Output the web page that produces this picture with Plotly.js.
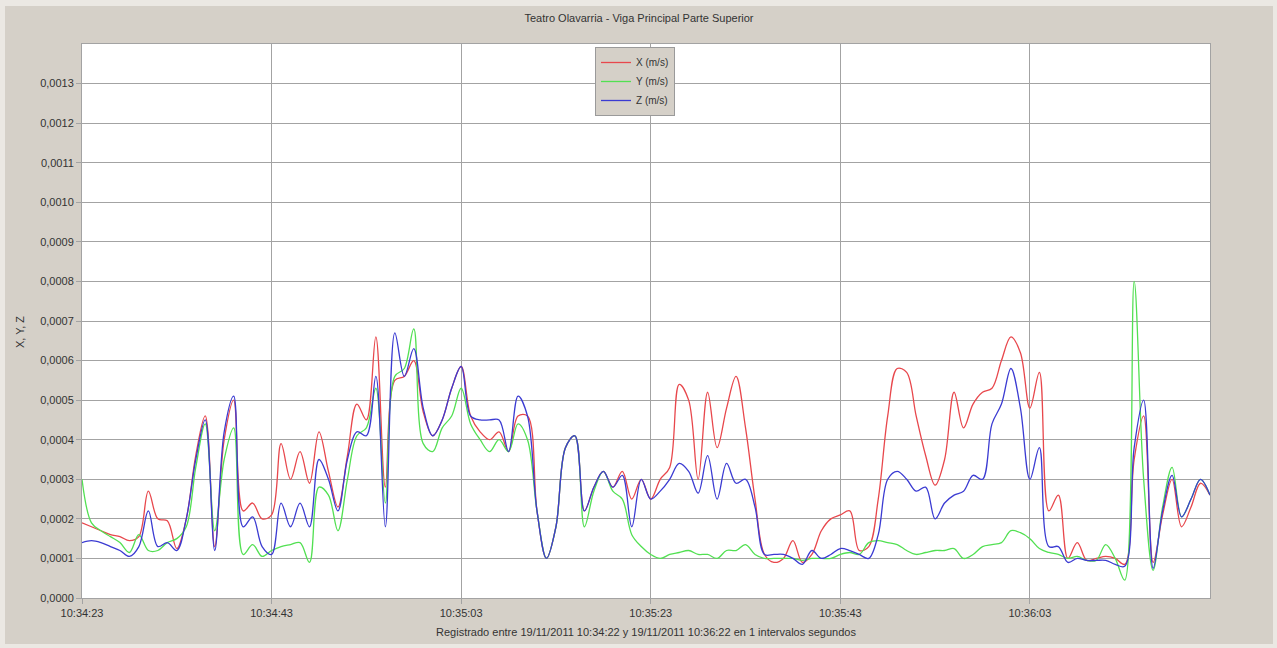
<!DOCTYPE html>
<html>
<head>
<meta charset="utf-8">
<script src="https://cdn.plot.ly/plotly-3.0.1.min.js"></script>
<style>
  html, body { margin: 0; padding: 0; background: #ebe8e3; }
  #chart { position: absolute; left: 5px; top: 6px; width: 1268px; height: 638px; }
</style>
</head>
<body>
<div id="chart"></div>
<script>
// Recording start (first plotted sample) and sample interval: 1 s
const startTime = '2011-11-19 10:34:23';
const intervalSeconds = 1;

// Values in units of 0.0001 m/s, one per second from 10:34:23
const unit = 0.0001;
const seriesX = [
  1.9, 1.8, 1.7, 1.6, 1.55, 1.45, 1.55, 2.7, 2.0, 1.95,
  1.25, 2.0, 3.6, 4.6, 1.3, 4.0, 5.0, 2.2, 2.4, 2.0,
  2.1, 3.9, 3.0, 3.7, 2.9, 4.2, 3.2, 2.3, 3.6, 4.9,
  4.5, 6.6, 2.8, 5.5, 5.6, 6.0, 4.7, 4.1, 4.5, 5.3,
  5.85, 4.6, 4.2, 4.0, 4.2, 3.7, 4.6, 4.6, 2.2, 1.0,
  1.8, 3.8, 4.1, 2.2, 2.8, 3.2, 2.8, 3.2, 2.5, 3.0,
  2.5, 3.0, 3.3, 5.4, 5.0, 3.0, 5.2, 3.8, 4.8, 5.6,
  4.3, 2.5, 1.1, 0.9, 1.0, 1.45, 0.9, 1.1, 1.7, 2.0,
  2.1, 2.2, 1.2, 1.3, 2.5, 4.6, 5.8, 5.7, 4.6, 3.6,
  2.85, 3.5, 5.2, 4.3, 4.9, 5.2, 5.3, 6.0, 6.6, 6.2,
  4.8, 5.7, 2.2, 2.6, 1.0, 1.4, 0.95, 1.0, 1.05, 1.0,
  0.85, 3.5, 4.6, 0.9, 2.1, 3.0, 1.8, 2.3, 2.9, 2.6
];
const seriesY = [
  3.0, 1.9, 1.7, 1.55, 1.4, 1.15, 1.6, 1.2, 1.2, 1.4,
  1.5, 1.8, 3.3, 4.4, 1.7, 3.5, 4.3, 1.1, 1.35, 1.05,
  1.2, 1.3, 1.35, 1.4, 0.9, 2.8, 2.6, 1.7, 3.0, 4.1,
  4.3, 5.3, 2.4, 5.6, 5.8, 6.8, 3.9, 3.7, 4.3, 4.6,
  5.3, 4.4, 4.0, 3.7, 4.0, 3.7, 4.4, 4.0, 2.2, 1.0,
  1.8, 3.8, 4.1, 1.8, 2.7, 3.2, 2.7, 2.5, 1.6, 1.3,
  1.1, 1.0, 1.1, 1.15, 1.2, 1.1, 1.1, 1.0, 1.2, 1.2,
  1.35, 1.1, 1.0, 1.0, 1.0, 1.0, 0.95, 1.0, 1.0, 1.0,
  1.1, 1.15, 1.1, 1.4, 1.45, 1.4, 1.35, 1.2, 1.1, 1.15,
  1.2, 1.2, 1.25, 1.0, 1.1, 1.3, 1.35, 1.4, 1.7, 1.65,
  1.5, 1.25, 1.15, 1.1, 1.0, 1.05, 0.95, 0.95, 1.35, 1.0,
  0.45, 8.0, 3.0, 0.7, 2.3, 3.3, 2.05, 2.5, 3.0, 2.6
];
const seriesZ = [
  1.4, 1.45, 1.4, 1.3, 1.2, 1.05, 1.3, 2.2, 1.3, 1.4,
  1.2, 2.0, 3.5, 4.5, 1.2, 4.2, 5.1, 1.8, 2.05, 1.3,
  1.1, 2.4, 1.8, 2.4, 1.8, 3.5, 3.0, 2.2, 3.5, 4.2,
  4.1, 5.6, 1.8, 6.7, 5.6, 6.3, 4.8, 4.1, 4.5, 5.3,
  5.85, 4.6, 4.5, 4.5, 4.5, 3.7, 5.1, 4.6, 2.2, 1.0,
  1.8, 3.8, 4.1, 2.2, 2.8, 3.2, 2.8, 3.1, 1.8, 3.0,
  2.5, 2.7, 3.0, 3.4, 3.2, 2.65, 3.6, 2.5, 3.4, 2.9,
  3.0, 2.3, 1.1, 1.1, 1.1, 1.0, 0.85, 1.2, 1.0, 1.1,
  1.25, 1.2, 1.1, 1.0, 1.6, 3.0, 3.2, 3.0, 2.7, 2.8,
  2.0, 2.4, 2.6, 2.7, 3.1, 3.0, 4.4, 4.9, 5.8, 4.8,
  3.0, 3.8, 1.3, 1.3, 0.9, 1.0, 0.95, 0.95, 0.95, 0.85,
  0.8, 3.8, 5.0, 0.75, 2.2, 3.1, 2.05, 2.5, 3.0, 2.6
];

const xTickStart = '2011-11-19 10:34:23';
const xRange = ['2011-11-19 10:34:23', '2011-11-19 10:36:22'];
const yTickVals = [0, 0.0001, 0.0002, 0.0003, 0.0004, 0.0005, 0.0006, 0.0007,
                   0.0008, 0.0009, 0.0010, 0.0011, 0.0012, 0.0013];
const yRange = [0, 0.0014];

const titleText = 'Teatro Olavarria - Viga Principal Parte Superior';
const xTitleText = 'Registrado entre 19/11/2011 10:34:22 y 19/11/2011 10:36:22 en 1 intervalos segundos';
const yTitleText = 'X, Y, Z';
const names = ['X (m/s)', 'Y (m/s)', 'Z (m/s)'];
const colors = ['#e8474c', '#52e052', '#3b3bd2'];

function pad(n) { return (n < 10 ? '0' : '') + n; }
const t0 = new Date(startTime.replace(' ', 'T') + 'Z').getTime();
const times = seriesX.map((_, i) => {
  const d = new Date(t0 + i * intervalSeconds * 1000);
  return d.getUTCFullYear() + '-' + pad(d.getUTCMonth() + 1) + '-' + pad(d.getUTCDate()) + ' ' +
    pad(d.getUTCHours()) + ':' + pad(d.getUTCMinutes()) + ':' + pad(d.getUTCSeconds());
});

const allSeries = [seriesX, seriesY, seriesZ];
const traces = allSeries.map((s, k) => ({
  type: 'scatter',
  mode: 'lines',
  name: names[k],
  x: times,
  y: s.map(v => v * unit),
  line: { color: colors[k], width: 1.3, shape: 'spline', smoothing: 1 },
  hoverinfo: 'x+y+name'
}));

const fam = 'Liberation Sans, Arial, sans-serif';
const txt = { family: fam, size: 11, color: '#333' };

const layout = {
  width: 1268,
  height: 638,
  paper_bgcolor: '#d5d0c8',
  plot_bgcolor: '#ffffff',
  separators: ',.',
  font: txt,
  margin: { l: 77, r: 63, t: 38, b: 46 },
  title: {
    text: titleText,
    font: txt,
    x: 0.5, xanchor: 'center',
    y: 1 - 12 / 638, yanchor: 'middle'
  },
  xaxis: {
    type: 'date',
    range: xRange,
    tick0: xTickStart,
    dtick: 20000,
    tickformat: '%H:%M:%S',
    showgrid: true,
    gridcolor: '#a3a3a3',
    gridwidth: 1,
    ticks: 'outside',
    ticklen: 5,
    tickcolor: '#a3a3a3',
    showline: true,
    linecolor: '#a3a3a3',
    mirror: true,
    zeroline: false,
    tickfont: txt,
    title: { text: xTitleText, standoff: 10, font: txt }
  },
  yaxis: {
    range: yRange,
    tickmode: 'array',
    tickvals: yTickVals,
    tickformat: '.4f',
    showgrid: true,
    gridcolor: '#a3a3a3',
    gridwidth: 1,
    ticks: 'outside',
    ticklen: 5,
    tickcolor: '#a3a3a3',
    showline: true,
    linecolor: '#a3a3a3',
    mirror: true,
    zeroline: false,
    tickfont: txt
  },
  annotations: [{
    text: yTitleText,
    xref: 'paper', yref: 'paper',
    x: (15 - 77) / 1128, y: (592 - 326) / 554,
    xanchor: 'center', yanchor: 'middle',
    textangle: -90,
    showarrow: false,
    font: txt
  }],
  legend: {
    x: (590 - 77) / 1128,
    y: (592 - 41) / 554,
    xanchor: 'left',
    yanchor: 'top',
    bgcolor: '#d5d0c8',
    bordercolor: '#9a9a9a',
    borderwidth: 1,
    font: { family: fam, size: 10, color: '#333' },
    itemwidth: 30,
    tracegroupgap: 0
  },
  showlegend: true
};

Plotly.newPlot('chart', traces, layout, { displayModeBar: false, staticPlot: true });
</script>
</body>
</html>
